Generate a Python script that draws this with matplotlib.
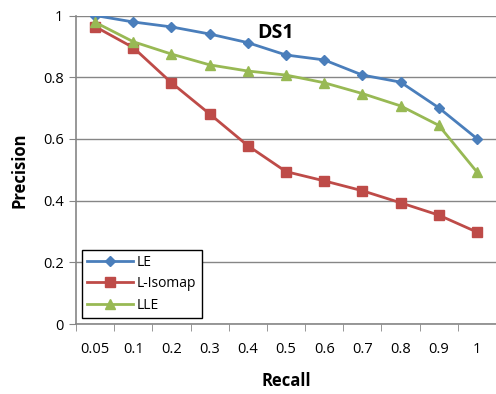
import matplotlib.pyplot as plt
from matplotlib.ticker import FixedLocator

recall = ["0.05", "0.1", "0.2", "0.3", "0.4", "0.5", "0.6", "0.7", "0.8", "0.9", "1"]
le = [1.0, 0.979, 0.963, 0.940, 0.912, 0.872, 0.856, 0.807, 0.784, 0.701, 0.601]
l_isomap = [0.964, 0.896, 0.782, 0.681, 0.578, 0.494, 0.464, 0.432, 0.393, 0.353, 0.298]
lle = [0.978, 0.915, 0.875, 0.840, 0.820, 0.807, 0.782, 0.747, 0.707, 0.644, 0.493]

plt.rcParams['font.family'] = ['Open Sans', 'DejaVu Sans']

fig = plt.figure(figsize=(4.96, 3.94), dpi=100)
ax = fig.add_axes([76 / 496, 1 - 324 / 394, 420 / 496, (324 - 15.5) / 394])

x = list(range(len(recall)))
ax.plot(x, le, color='#4A7EBB', marker='D', markersize=5.5, linewidth=2, label='LE')
ax.plot(x, l_isomap, color='#BE4B48', marker='s', markersize=7, linewidth=2, label='L-Isomap')
ax.plot(x, lle, color='#98B954', marker='^', markersize=7.5, linewidth=2, label='LLE')

ax.set_xlim(-0.5, len(recall) - 0.5)
ax.set_ylim(0, 1)
ax.set_yticks([0, 0.2, 0.4, 0.6, 0.8, 1.0])
ax.set_yticklabels(["0", "0.2", "0.4", "0.6", "0.8", "1"])
ax.set_xticks(x)
ax.set_xticklabels(recall)
ax.xaxis.set_minor_locator(FixedLocator([i - 0.5 for i in range(len(recall) + 1)]))
ax.tick_params(axis='x', which='major', length=0, pad=13, labelsize=10.5)
ax.tick_params(axis='x', which='minor', length=5, color='#868686', direction='out')
ax.tick_params(axis='y', length=5, color='#868686', labelsize=10.5, pad=4)

ax.grid(axis='y', color='#868686', linewidth=1)
ax.set_axisbelow(True)
for s in ['top', 'right']:
    ax.spines[s].set_visible(False)
for s in ['left', 'bottom']:
    ax.spines[s].set_color('#868686')
    ax.spines[s].set_linewidth(1.2)

ax.set_xlabel('Recall', fontsize=12, fontweight='bold', labelpad=11)
ax.set_ylabel('Precision', fontsize=12, fontweight='bold', labelpad=10)
ax.text(0.475, 0.975, 'DS1', transform=ax.transAxes, fontsize=14, fontweight='bold', va='top', ha='center')

leg = ax.legend(loc='lower left', bbox_to_anchor=(0.014, 0.019), borderaxespad=0, fancybox=False,
                edgecolor='black', fontsize=10, handlelength=3.3, borderpad=0.4, labelspacing=0.45,
                handletextpad=0.25, framealpha=1)
leg.get_frame().set_linewidth(1)

fig.savefig('out.png', dpi=100)
